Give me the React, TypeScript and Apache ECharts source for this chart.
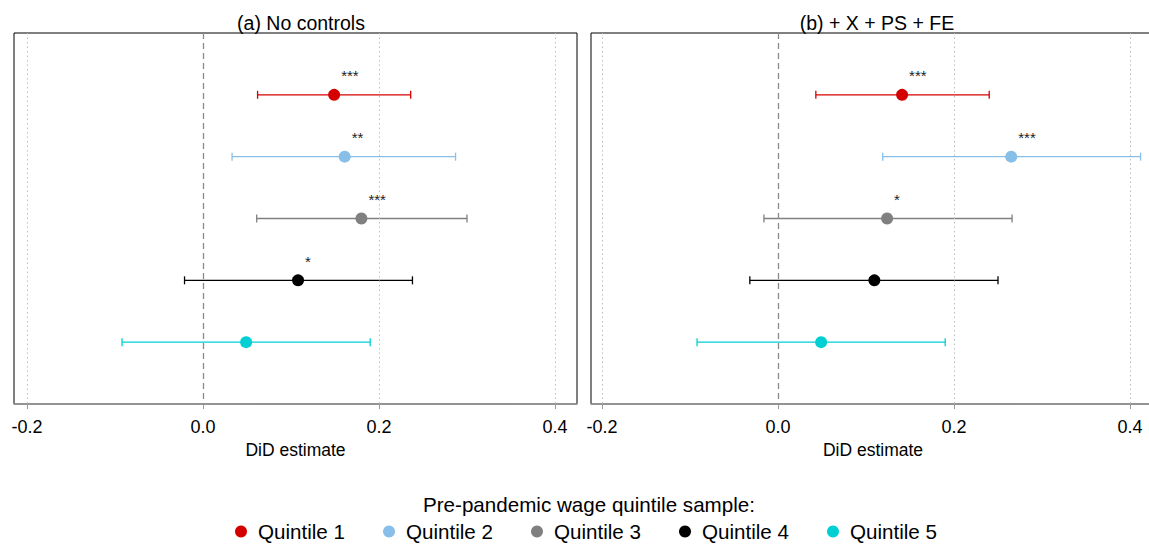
import React, { useEffect, useRef } from "react";
import * as echarts from "echarts";

const quintiles = ["Quintile 1", "Quintile 2", "Quintile 3", "Quintile 4", "Quintile 5"];
const colors = ["#d40000", "#87bfe9", "#808080", "#000000", "#00d0d4"];

// Panel (a) No controls
const estA = [0.149, 0.161, 0.18, 0.108, 0.049];
const loA = [0.062, 0.033, 0.061, -0.021, -0.092];
const hiA = [0.236, 0.287, 0.3, 0.238, 0.19];
const starsA = ["***", "**", "***", "*", ""];

// Panel (b) + X + PS + FE
const estB = [0.141, 0.265, 0.124, 0.1095, 0.049];
const loB = [0.043, 0.119, -0.016, -0.032, -0.092];
const hiB = [0.24, 0.412, 0.266, 0.25, 0.19];
const starsB = ["***", "***", "*", "", ""];

const tickValues = [-0.2, 0, 0.2, 0.4];
const panelTitles = ["(a) No controls", "(b) + X + PS + FE"];
const axisName = "DiD estimate";
const legendTitle = "Pre-pandemic wage quintile sample:";

const FONT = "'Liberation Sans', Arial, sans-serif";

const panels = [
  { est: estA, lo: loA, hi: hiA, stars: starsA, left: 14, width: 563, min: -0.2148, max: 0.425, titleX: 296 },
  { est: estB, lo: loB, hi: hiB, stars: starsB, left: 591, width: 564, min: -0.2125, max: 0.4284, titleX: 872 },
];

export default function App() {
  const ref = useRef<HTMLDivElement>(null);
  useEffect(() => {
    if (!ref.current) return;
    const chart = echarts.init(ref.current, null, { renderer: "svg" });

    const grids: any[] = [];
    const xAxes: any[] = [];
    const yAxes: any[] = [];
    const series: any[] = [];
    const titles: any[] = [];

    panels.forEach((p, pi) => {
      grids.push({
        left: p.left,
        top: 33,
        width: p.width,
        height: 371,
        show: true,
        borderColor: "#000",
        borderWidth: 1,
        backgroundColor: "transparent",
      });
      xAxes.push({
        type: "value",
        gridIndex: pi,
        min: p.min,
        max: p.max,
        axisLine: { show: true, onZero: false, lineStyle: { color: "#9a9a9a", width: 1.5 } },
        axisTick: { show: true, customValues: tickValues, length: 5, lineStyle: { color: "#9a9a9a" } },
        axisLabel: {
          customValues: tickValues,
          formatter: (v: number) => v.toFixed(1),
          fontSize: 18,
          color: "#000",
          margin: 14,
          fontFamily: FONT,
        },
        splitLine: { show: false },
        name: axisName,
        nameLocation: "middle",
        nameGap: 37,
        nameTextStyle: { fontSize: 17.5, color: "#000", fontFamily: FONT },
      });
      yAxes.push({
        type: "value",
        gridIndex: pi,
        min: 0,
        max: 6,
        inverse: true,
        show: false,
      });
      titles.push({
        text: panelTitles[pi],
        left: p.titleX,
        top: 8,
        textAlign: "center",
        textStyle: { fontSize: 19.5, fontWeight: "normal", color: "#000", fontFamily: FONT },
      });

      // reference lines
      series.push({
        type: "scatter",
        name: "ref" + pi,
        xAxisIndex: pi,
        yAxisIndex: pi,
        data: [],
        silent: true,
        z: 1,
        markLine: {
          symbol: ["none", "none"],
          silent: true,
          animation: false,
          label: { show: false },
          data: [
            ...tickValues
              .filter((t) => t !== 0)
              .map((t) => ({ xAxis: t, lineStyle: { type: [1.5, 3], color: "#bdbdbd", width: 1 } })),
            { xAxis: 0, lineStyle: { type: [6, 4], color: "#8a8a8a", width: 1.3 } },
          ],
        },
      });

      quintiles.forEach((q, i) => {
        series.push({
          type: "scatter",
          name: q,
          xAxisIndex: pi,
          yAxisIndex: pi,
          data: [[p.est[i], i + 1]],
          symbol: "circle",
          symbolSize: 12,
          itemStyle: { color: colors[i], opacity: 1 },
          z: 4,
          label: {
            show: p.stars[i] !== "",
            formatter: () => p.stars[i],
            position: [13, -13],
            align: "left",
            verticalAlign: "middle",
            fontSize: 15,
            color: "#222",
            fontFamily: FONT,
          },
        });
      });
      quintiles.forEach((q, i) => {
        series.push({
          type: "custom",
          name: q + " CI" + pi,
          xAxisIndex: pi,
          yAxisIndex: pi,
          z: 3,
          silent: true,
          data: [[p.lo[i], p.hi[i], i + 1]],
          renderItem: (params: any, api: any) => {
            const y = api.value(2);
            const a = api.coord([api.value(0), y]);
            const b = api.coord([api.value(1), y]);
            const st = { stroke: colors[i], lineWidth: 1.3 };
            const cap = 4;
            return {
              type: "group",
              children: [
                { type: "line", shape: { x1: a[0], y1: a[1], x2: b[0], y2: b[1] }, style: st },
                { type: "line", shape: { x1: a[0], y1: a[1] - cap, x2: a[0], y2: a[1] + cap }, style: st },
                { type: "line", shape: { x1: b[0], y1: b[1] - cap, x2: b[0], y2: b[1] + cap }, style: st },
              ],
            };
          },
        });
      });
    });

    titles.push({
      text: legendTitle,
      left: 584,
      top: 489,
      textAlign: "center",
      textStyle: { fontSize: 20.6, fontWeight: "normal", color: "#000", fontFamily: FONT },
    });

    chart.setOption({
      animation: false,
      backgroundColor: "#fff",
      textStyle: { fontFamily: FONT },
      title: titles,
      grid: grids,
      xAxis: xAxes,
      yAxis: yAxes,
      legend: {
        data: quintiles.map((n) => ({ name: n, icon: "circle" })),
        selectedMode: false,
        left: 230,
        top: 516,
        itemWidth: 12,
        itemHeight: 12,
        itemGap: 38,
        textStyle: { fontSize: 20.6, color: "#000", fontFamily: FONT, padding: [0, 0, 0, 6] },
      },
      series,
    });
    return () => chart.dispose();
  }, []);
  return (
    <div
      ref={ref}
      style={{ position: "fixed", left: 0, top: 0, width: 1170, height: 549, background: "#fff" }}
    />
  );
}
